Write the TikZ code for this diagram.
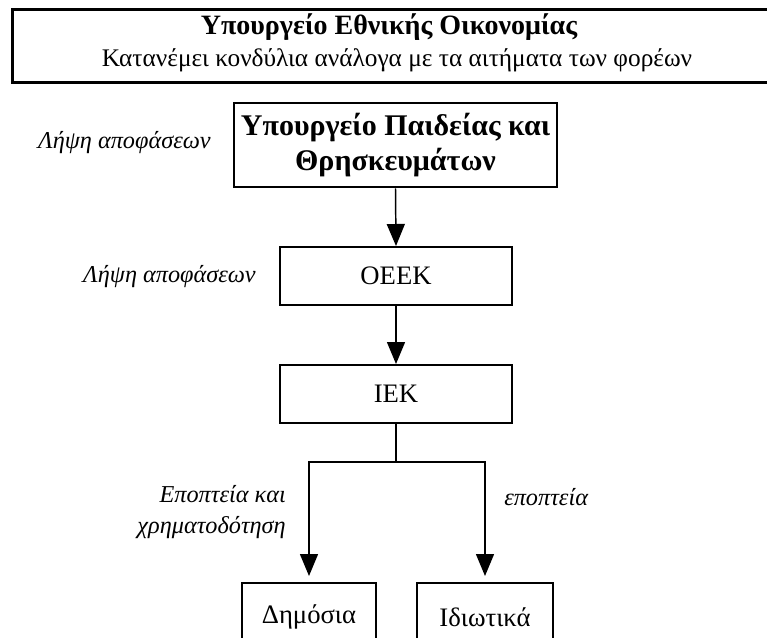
\documentclass[tikz,border=0pt]{standalone}
\usepackage{fontspec}
\setmainfont{Liberation Serif}
\usetikzlibrary{arrows.meta}
\begin{document}
\begin{tikzpicture}[x=0.75pt,y=-0.75pt,
  thickbox/.style={draw,line width=2pt,inner sep=0pt},
  plainbox/.style={draw,line width=1.5pt,inner sep=0pt,minimum width=232*0.75pt,minimum height=58*0.75pt,font=\fontsize{20}{24}\selectfont},
  leafbox/.style={draw,line width=1.5pt,inner sep=0pt,minimum height=68*0.75pt,font=\fontsize{20}{24}\selectfont},
  lbl/.style={font=\fontsize{18.2}{23}\selectfont\itshape,inner sep=0pt},
  conn/.style={line width=1.1pt},
  arr/.style={conn,-{Triangle[width=18*0.75pt,length=22*0.75pt]}}]
\useasboundingbox (0,0) rectangle (767,638);
\clip (0,0) rectangle (767,638);
% top box
\node[thickbox,minimum width=820*0.75pt,minimum height=73*0.75pt,anchor=north west] (eco) at (11,8) {};
\node[font=\fontsize{21}{24}\selectfont\bfseries,inner sep=0pt] (ecot) at (389,27) {Υπουργείο Εθνικής Οικονομίας};
\node[font=\fontsize{19}{22}\selectfont,inner sep=0pt] (ecos) at (397,60) {Κατανέμει κονδύλια ανάλογα με τα αιτήματα των φορέων};
% ministry of education
\node[thickbox,minimum width=323*0.75pt,minimum height=84*0.75pt,align=center,font=\fontsize{22.5}{26}\selectfont\bfseries] (ypep) at (395.5,145) {Υπουργείο Παιδείας και\\Θρησκευμάτων};
\node[plainbox] (oeek) at (396,276) {OEEK};
\node[plainbox] (iek) at (396,394) {IEK};
\node[leafbox,minimum width=134*0.75pt] (dim) at (309,617) {Δημόσια};
\node[leafbox,minimum width=136*0.75pt] (idi) at (485,617) {Ιδιωτικά};
% labels
\node[lbl,anchor=east] (l1) at (211,143) {Λήψη αποφάσεων};
\node[lbl,anchor=east] (l2) at (256,277) {Λήψη αποφάσεων};
\node[lbl,anchor=east,align=right] (l3) at (286,512) {Εποπτεία και\\χρηματοδότηση};
\node[lbl,anchor=west] (l4) at (504,497) {εποπτεία};
% connectors
\draw[arr] (ypep.south) -- (oeek.north);
\draw[arr] (oeek.south) -- (iek.north);
\coordinate (jn) at (396,462);
\draw[conn] (iek.south) -- (jn);
\draw[arr,shorten >=6*0.75pt] (jn) -| (dim.north);
\draw[arr,shorten >=6*0.75pt] (jn) -| (idi.north);
\end{tikzpicture}
\end{document}
